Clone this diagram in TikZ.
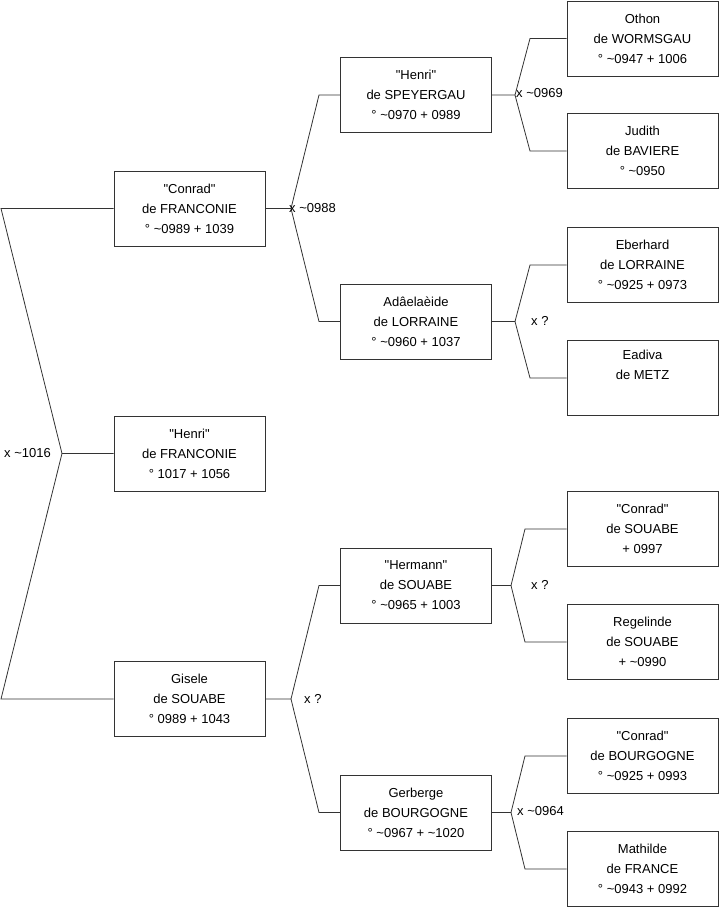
\documentclass[tikz,border=0pt]{standalone}
\usepackage{fontspec}
\newfontfamily\plainsans{Liberation Sans}
\newcommand\mytilde{\textasciitilde}
\begin{document}
\begin{tikzpicture}[x=1pt,y=-1pt,
  person/.style={draw=black!80, line width=0.8pt, minimum width=151pt, minimum height=75pt,
    align=center, inner sep=0pt, font=\plainsans\fontsize{13}{20}\selectfont},
  link/.style={draw=black!80, line width=0.8pt},
  lab/.style={font=\plainsans\fontsize{13}{20}\selectfont, inner sep=0pt}]
\useasboundingbox (0,0) rectangle (719,908);
% level 0
\node[person] (henriF) at (189.5,453.5) {"Henri"\\de FRANCONIE\\° 1017 + 1056};
% level 1
\node[person] (conradF) at (189.5,208.5) {"Conrad"\\de FRANCONIE\\° \mytilde0989 + 1039};
\node[person] (gisele) at (189.5,699) {Gisele\\de SOUABE\\° 0989 + 1043};
% level 2
\node[person] (henriS) at (416,95) {"Henri"\\de SPEYERGAU\\° \mytilde0970 + 0989};
\node[person] (adelaide) at (416,321.5) {Adâelaèide\\de LORRAINE\\° \mytilde0960 + 1037};
\node[person] (hermann) at (416,585.5) {"Hermann"\\de SOUABE\\° \mytilde0965 + 1003};
\node[person] (gerberge) at (416,812.5) {Gerberge\\de BOURGOGNE\\° \mytilde0967 + \mytilde1020};
% level 3
\node[person] (othon) at (642.5,38.5) {Othon\\de WORMSGAU\\° \mytilde0947 + 1006};
\node[person] (judith) at (642.5,151) {Judith\\de BAVIERE\\° \mytilde0950};
\node[person] (eberhard) at (642.5,265) {Eberhard\\de LORRAINE\\° \mytilde0925 + 0973};
\node[person] (eadiva) at (642.5,378) {Eadiva\\de METZ\\\strut};
\node[person] (conradS) at (642.5,529) {"Conrad"\\de SOUABE\\+ 0997};
\node[person] (regelinde) at (642.5,642) {Regelinde\\de SOUABE\\+ \mytilde0990};
\node[person] (conradB) at (642.5,756) {"Conrad"\\de BOURGOGNE\\° \mytilde0925 + 0993};
\node[person] (mathilde) at (642.5,869) {Mathilde\\de FRANCE\\° \mytilde0943 + 0992};
% fork vertices
\coordinate (v0) at (62,453.5);
\coordinate (v1) at (291,208.5);
\coordinate (v2) at (291,699);
\coordinate (v3) at (515,95);
\coordinate (v4) at (515,321.5);
\coordinate (v5) at (511,585.5);
\coordinate (v6) at (511,812.5);
% fork arms
\coordinate (a0) at (1,208.5); \coordinate (b0) at (1,699);
\coordinate (a1) at (319,95); \coordinate (b1) at (319,321.5);
\coordinate (a2) at (319,585.5); \coordinate (b2) at (319,812.5);
\coordinate (a3) at (530,38.5); \coordinate (b3) at (530,151);
\coordinate (a4) at (530,265); \coordinate (b4) at (530,378);
\coordinate (a5) at (525,529); \coordinate (b5) at (525,642);
\coordinate (a6) at (525,756); \coordinate (b6) at (525,869);
% connectors
\draw[link] (henriF.west) -- (v0) -- (a0) -- (conradF.west);
\draw[link] (v0) -- (b0) -- (gisele.west);
\draw[link] (conradF.east) -- (v1) -- (a1) -- (henriS.west);
\draw[link] (v1) -- (b1) -- (adelaide.west);
\draw[link] (gisele.east) -- (v2) -- (a2) -- (hermann.west);
\draw[link] (v2) -- (b2) -- (gerberge.west);
\draw[link] (henriS.east) -- (v3) -- (a3) -- (othon.west);
\draw[link] (v3) -- (b3) -- (judith.west);
\draw[link] (adelaide.east) -- (v4) -- (a4) -- (eberhard.west);
\draw[link] (v4) -- (b4) -- (eadiva.west);
\draw[link] (hermann.east) -- (v5) -- (a5) -- (conradS.west);
\draw[link] (v5) -- (b5) -- (regelinde.west);
\draw[link] (gerberge.east) -- (v6) -- (a6) -- (conradB.west);
\draw[link] (v6) -- (b6) -- (mathilde.west);
% marriage labels
\node[lab, anchor=east] (m0) at (51,453.5) {x \mytilde1016};
\node[lab, anchor=west] (m1) at (289,208.5) {x \mytilde0988};
\node[lab, anchor=west] (m2) at (304,699) {x ?};
\node[lab, anchor=west] (m3) at (516,93) {x \mytilde0969};
\node[lab, anchor=west] (m4) at (531,320.5) {x ?};
\node[lab, anchor=west] (m5) at (531,585) {x ?};
\node[lab, anchor=west] (m6) at (517,811) {x \mytilde0964};
\end{tikzpicture}
\end{document}
